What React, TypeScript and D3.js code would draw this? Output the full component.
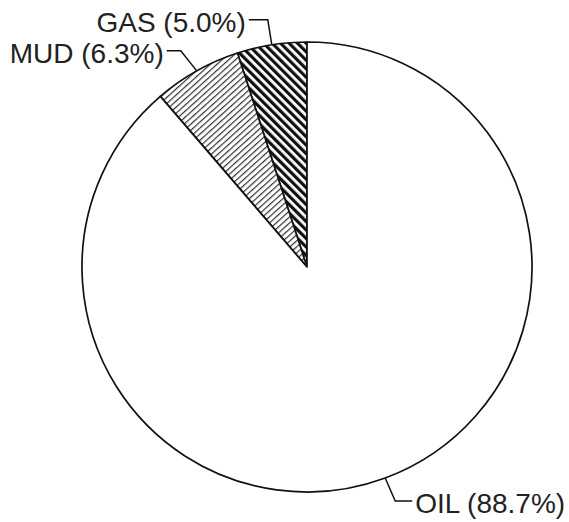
import React from 'react';
import * as d3 from 'd3';

// slice order as drawn: counter-clockwise from 12 o'clock
const categories = ['GAS', 'MUD', 'OIL'];
const shares = [5.0, 6.3, 88.7];
const labels = ['GAS (5.0%)', 'MUD (6.3%)', 'OIL (88.7%)'];

const W = 569;
const H = 522;
const cx = 307;
const cy = 267;
const R = 225;

// leader line shapes: elbow offset from arc point, then horizontal run
const leaders: {[k: string]: {elbow: [number, number], run: number}} = {
    GAS: {elbow: [-4, -25], run: -19},
    MUD: {elbow: [-16, -20], run: -14},
    OIL: {elbow: [10, 23], run: 17}
};

const fills: {[k: string]: string} = {
    GAS: 'url(#hatchGas)',
    MUD: 'url(#hatchMud)',
    OIL: '#fff'
};

const App = () => {
    const rows = categories.map((c, i) => ({cat: c, value: shares[i], label: labels[i]}));

    // counter-clockwise: go from 0 to -2pi
    const pie = d3.pie<any>()
        .sort(null)
        .value(d => d.value)
        .startAngle(0)
        .endAngle(-2 * Math.PI);

    const arcs = pie(rows);
    const arcGen = d3.arc<any>().innerRadius(0).outerRadius(R);

    return (
        <svg width={W} height={H} style={{position: 'absolute', left: 0, top: 0, background: '#fff'}}>
            <defs>
                <pattern id="hatchGas" patternUnits="userSpaceOnUse" width={6} height={6}
                    patternTransform="rotate(-45)">
                    <rect width={6} height={6} fill="#fff"/>
                    <line x1={1.6} y1={0} x2={1.6} y2={6} stroke="#111" strokeWidth={3.2}/>
                </pattern>
                <pattern id="hatchMud" patternUnits="userSpaceOnUse" width={4.5} height={4.5}
                    patternTransform="rotate(48)">
                    <rect width={4.5} height={4.5} fill="#fff"/>
                    <line x1={0.6} y1={0} x2={0.6} y2={4.5} stroke="#333" strokeWidth={1.2}/>
                </pattern>
            </defs>
            <g transform={`translate(${cx},${cy})`}>
                {arcs.map(a => (
                    <path key={a.data.cat} d={arcGen(a) as string}
                        fill={fills[a.data.cat]} stroke="#111" strokeWidth={1.7}
                        strokeLinejoin="round"/>
                ))}
                {arcs.map(a => {
                    const mid = (a.startAngle + a.endAngle) / 2;
                    const px = R * Math.sin(mid);
                    const py = -R * Math.cos(mid);
                    const l = leaders[a.data.cat];
                    const ex = px + l.elbow[0];
                    const ey = py + l.elbow[1];
                    const tx = ex + l.run;
                    const right = l.run > 0;
                    return (
                        <g key={a.data.cat + '-lab'}>
                            <path d={`M${px},${py}L${ex},${ey}L${tx},${ey}`}
                                fill="none" stroke="#111" strokeWidth={1.5}/>
                            <text x={tx + (right ? 3 : -3)} y={ey} dy="0.42em"
                                textAnchor={right ? 'start' : 'end'}
                                fontFamily="'Liberation Sans', Arial, sans-serif"
                                fontSize={28} fill="#222">{a.data.label}</text>
                        </g>
                    );
                })}
            </g>
        </svg>
    );
};

export default App;
